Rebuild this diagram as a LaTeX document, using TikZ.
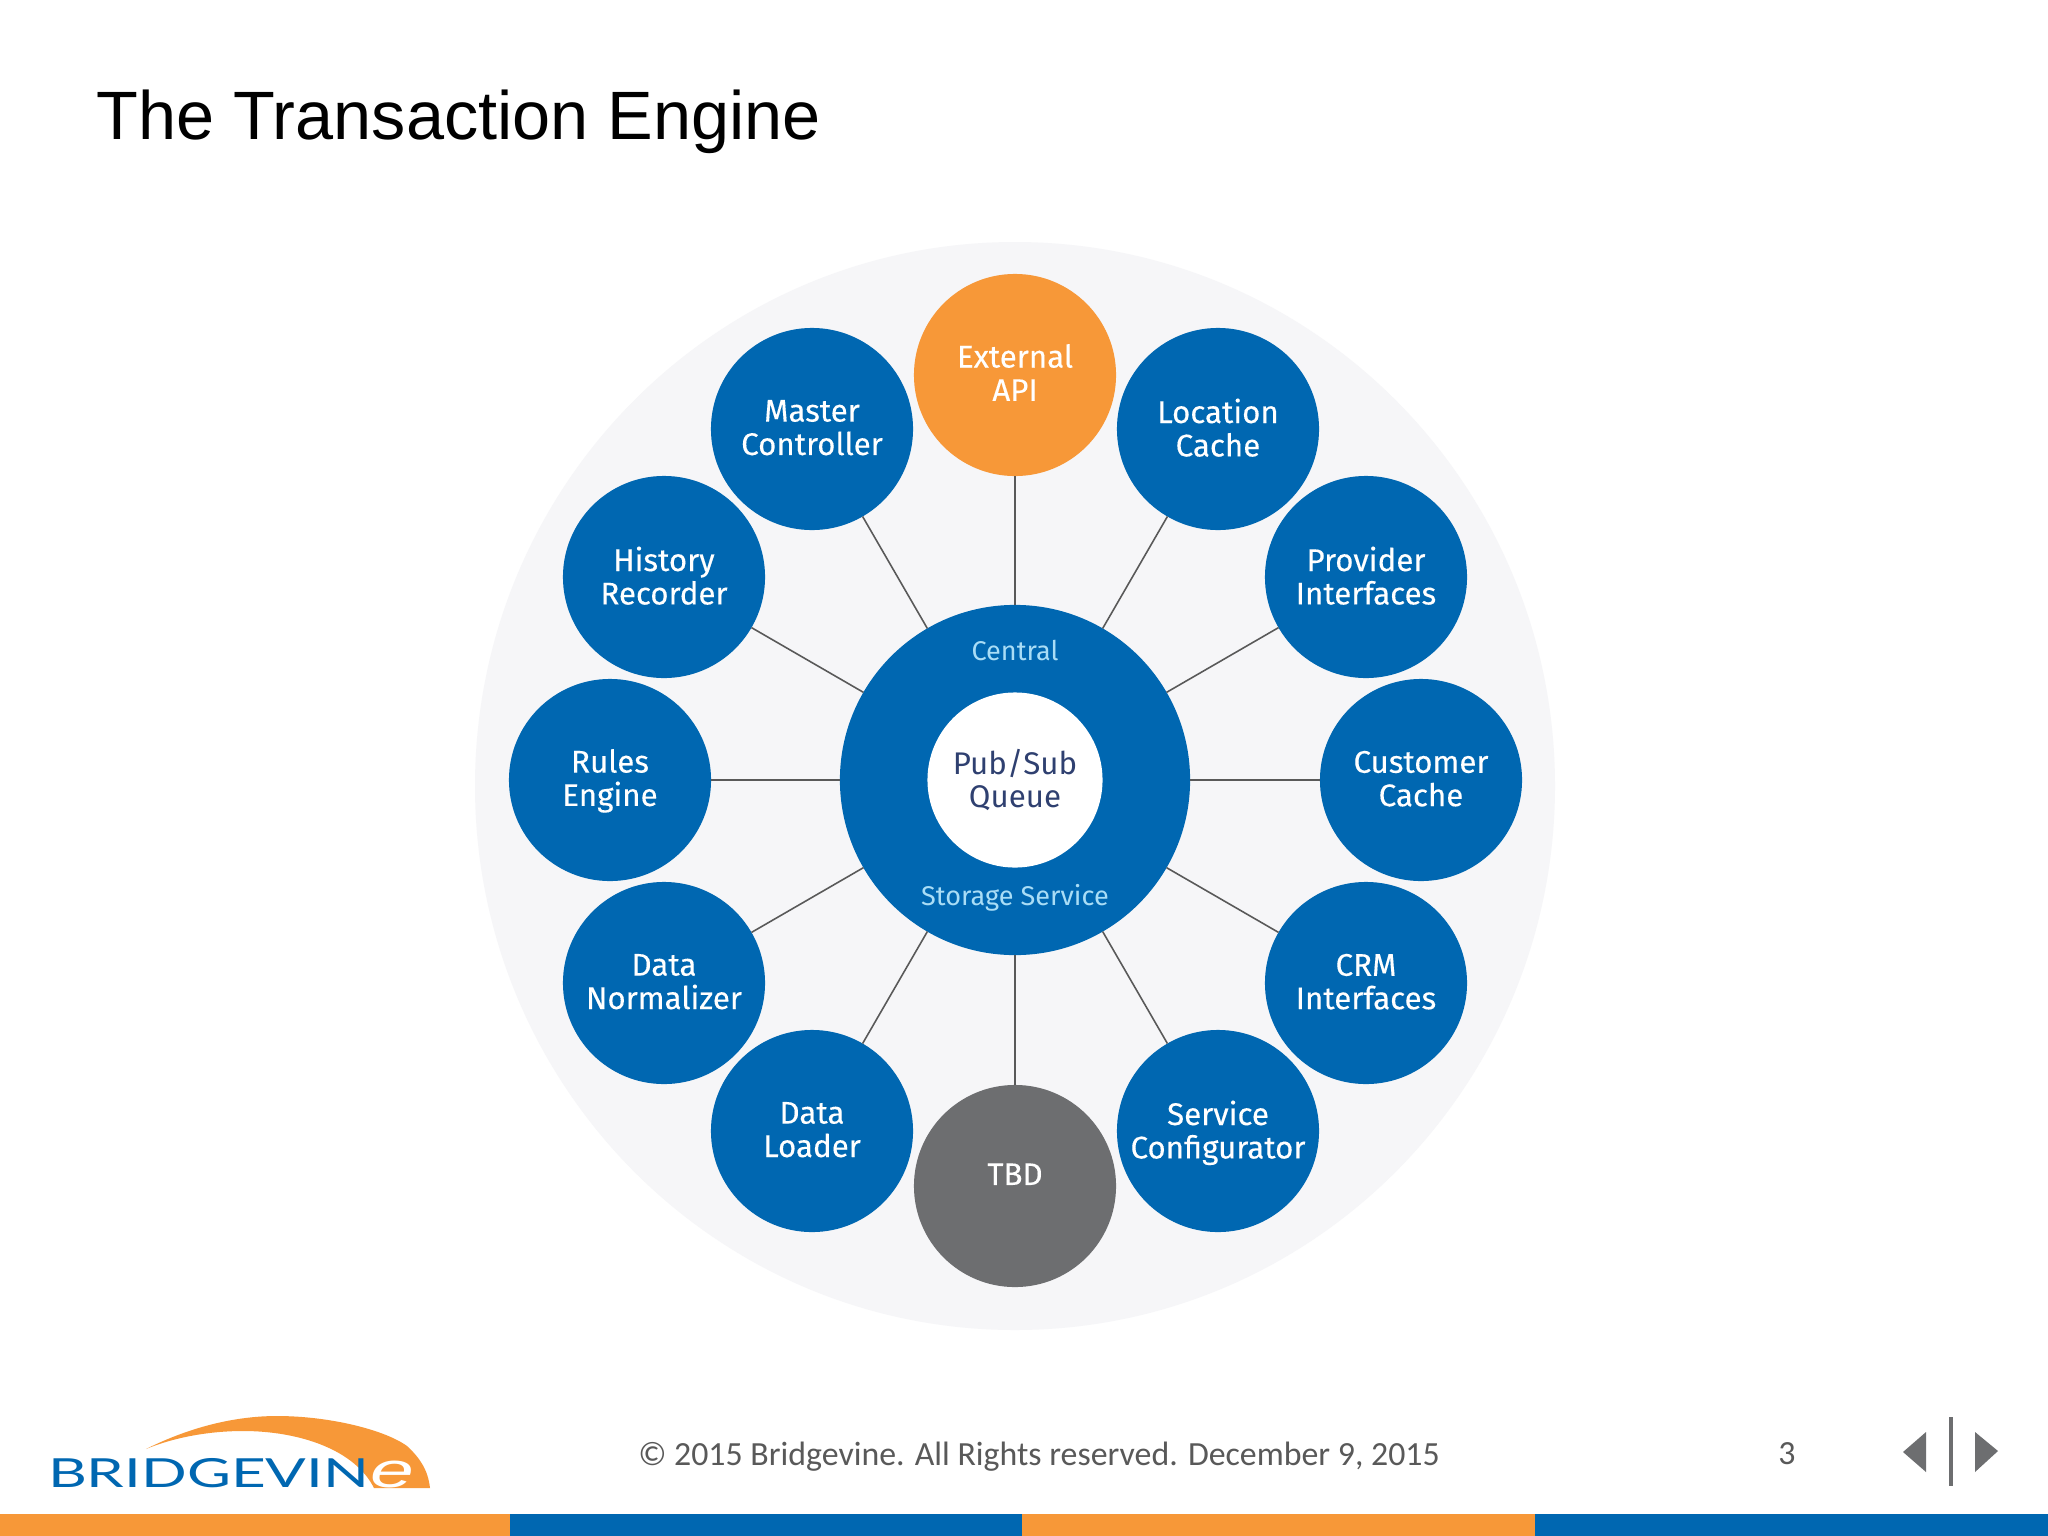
\documentclass[tikz,border=0pt]{standalone}
\usepackage{fontspec}
\setmainfont{Liberation Sans}
\newfontfamily\labelfont{Fira Sans}
\newfontfamily\spokefont[FakeBold=0.25]{Fira Sans}
\newfontfamily\footfont{Carlito}
\newfontfamily\brandfont{Lato}
\definecolor{bvblue}{HTML}{0067B1}
\definecolor{bvorange}{HTML}{F79838}
\definecolor{bvgray}{HTML}{6D6E70}
\definecolor{bvpale}{HTML}{F6F6F8}
\definecolor{bvsky}{HTML}{A9DDF6}
\definecolor{bvnavy}{HTML}{2F4070}
\definecolor{bvfoot}{HTML}{595959}
\tikzset{
    spoke/.style={circle, fill=bvblue, minimum size=2.02cm, inner sep=0pt, outer sep=0pt, align=center, text=white,
        text depth=0.03cm, font=\spokefont\fontsize{8.9}{9.5}\selectfont},
    apiSpoke/.style={spoke, fill=bvorange, text depth=0.05cm},
    tbdSpoke/.style={spoke, fill=bvgray, text depth=0.236cm},
    link/.style={draw=black!65, line width=0.45pt},
    ringText/.style={text=bvsky, font=\labelfont\fontsize{7.7}{9}\selectfont, inner sep=0pt},
    footText/.style={text=bvfoot, font=\footfont\fontsize{9.62}{11}\selectfont, inner sep=0pt},
    navMark/.style={fill=bvgray}
}
\begin{document}
\begin{tikzpicture}[x=0.01cm, y=-0.01cm]
    \useasboundingbox (0, 0) rectangle (2048, 1536);
    \fill[white] (0, 0) rectangle (2048, 1536);

    \node[anchor=base west, inner sep=0pt, font=\fontsize{19.46}{22}\selectfont] (title) at (96, 139) {The Transaction Engine};

    \fill[bvpale] (1015, 786) ellipse (540 and 544);

    \node[circle, fill=bvblue, minimum size=3.5cm, inner sep=0pt, outer sep=0pt] (storage) at (1015, 780) {};
    \node[circle, fill=white, minimum size=1.75cm, inner sep=0pt, align=center, text=bvnavy,
        font=\labelfont\fontsize{8.9}{9.5}\selectfont] (queue) at (1015, 780) {Pub/Sub\\Queue};
    \node[ringText] (central) at (1015, 650) {Central};
    \node[ringText] (service) at (1015, 898) {Storage Service};

    \node[apiSpoke] (api) at (1015, 375) {External\\API};
    \node[spoke] (location) at (1218, 429) {Location\\Cache};
    \node[spoke] (provider) at (1366, 577) {Provider\\Interfaces};
    \node[spoke] (customer) at (1421, 780) {Customer\\Cache};
    \node[spoke] (crm) at (1366, 983) {CRM\\Interfaces};
    \node[spoke] (configurator) at (1218, 1131) {Service\\Configurator};
    \node[tbdSpoke] (tbd) at (1015, 1186) {TBD};
    \node[spoke] (loader) at (812, 1131) {Data\\Loader};
    \node[spoke] (normalizer) at (664, 983) {Data\\Normalizer};
    \node[spoke, text depth=0.05cm] (rules) at (610, 780) {Rules\\Engine};
    \node[spoke] (history) at (664, 577) {History\\Recorder};
    \node[spoke] (master) at (812, 429) {Master\\Controller};

    \draw[link] (storage) -- (api);
    \draw[link] (storage) -- (location);
    \draw[link] (storage) -- (provider);
    \draw[link] (storage) -- (customer);
    \draw[link] (storage) -- (crm);
    \draw[link] (storage) -- (configurator);
    \draw[link] (storage) -- (tbd);
    \draw[link] (storage) -- (loader);
    \draw[link] (storage) -- (normalizer);
    \draw[link] (storage) -- (rules);
    \draw[link] (storage) -- (history);
    \draw[link] (storage) -- (master);

    \fill[bvorange] (146, 1449) .. controls (190, 1427) and (235, 1416) .. (277, 1416)
        .. controls (330, 1416) and (385, 1430) .. (407, 1446)
        .. controls (420, 1458) and (428, 1470) .. (430, 1488) -- (374, 1488)
        .. controls (355, 1450) and (300, 1431) .. (243, 1431)
        .. controls (210, 1431) and (175, 1437) .. (146, 1449) -- cycle;
    \node[anchor=base west, inner sep=0pt, text=bvblue, xscale=1.5, font=\brandfont\fontsize{11.4}{12}\selectfont] (brand) at (47, 1487) {BRIDGEVIN};
    \node[anchor=base, inner sep=0pt, text=white, xscale=1.6, font=\itshape\fontsize{14}{14}\selectfont] (brandE) at (392, 1487) {e};

    \node[footText] (copyright) at (1039, 1457) {© 2015 Bridgevine. All Rights reserved. December 9, 2015};
    \node[footText] (page) at (1787, 1454) {3};

    \fill[navMark] (1903, 1452) -- (1926, 1432) -- (1926, 1472) -- cycle;
    \fill[navMark] (1949, 1417) rectangle (1953, 1486);
    \fill[navMark] (1975, 1432) -- (1998, 1451) -- (1975, 1472) -- cycle;

    \fill[bvorange] (0, 1514) rectangle (510, 1536);
    \fill[bvblue] (510, 1514) rectangle (1022, 1536);
    \fill[bvorange] (1022, 1514) rectangle (1535, 1536);
    \fill[bvblue] (1535, 1514) rectangle (2048, 1536);
\end{tikzpicture}
\end{document}
